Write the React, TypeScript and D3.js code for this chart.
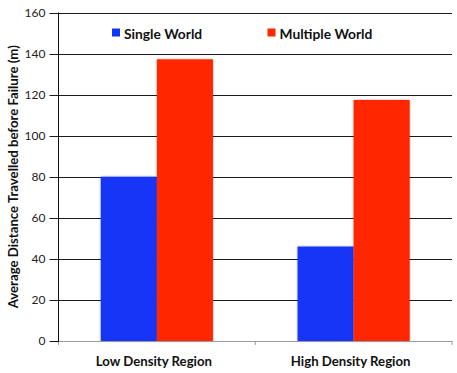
import * as d3 from "d3";

const categories = ["Low Density Region", "High Density Region"];
const seriesNames = ["Single World", "Multiple World"];
const singleWorld = [80, 46];
const multipleWorld = [137.2, 117.4];
const yTicks = [0, 20, 40, 60, 80, 100, 120, 140, 160];

const seriesColors = ["#1236f6", "#ff2800"];
const width = 457;
const height = 373;
const margin = { top: 12.5, right: 5, bottom: 32, left: 58.5 };
const font = "Lato, 'Open Sans', sans-serif";

export default function App() {
  const plotBottom = height - margin.bottom;
  const plotRight = width - margin.right;

  const x = d3
    .scaleBand()
    .domain(categories)
    .range([margin.left, plotRight])
    .paddingInner(0.43)
    .paddingOuter(0.215);
  const xSeries = d3
    .scaleBand()
    .domain(seriesNames)
    .range([0, x.bandwidth()]);
  const y = d3.scaleLinear().domain([0, 160]).range([plotBottom, margin.top]);

  const rows = categories.map((c, i) => ({
    category: c,
    values: [singleWorld[i], multipleWorld[i]],
  }));

  const legendItems = [
    { name: seriesNames[0], x: 112 },
    { name: seriesNames[1], x: 267.5 },
  ];

  return (
    <div style={{ position: "absolute", left: 0, top: 0 }}>
      <svg width={width} height={height} style={{ display: "block", background: "#fff" }}>
        <defs>
          <filter id="barShadow" x="-10%" y="-10%" width="120%" height="120%">
            <feDropShadow dx="0" dy="0" stdDeviation="0.9" floodColor="#000" floodOpacity="0.35" />
          </filter>
        </defs>

        {/* gridlines */}
        {yTicks.filter((t) => t > 0).map((t) => (
          <line
            key={t}
            x1={margin.left - 9}
            x2={plotRight}
            y1={Math.round(y(t)) + 0.5}
            y2={Math.round(y(t)) + 0.5}
            stroke="#1a1a1a"
            strokeWidth={1}
          />
        ))}

        {/* bars */}
        {rows.map((row) =>
          row.values.map((v, j) => (
            <rect
              key={row.category + j}
              x={(x(row.category) ?? 0) + (xSeries(seriesNames[j]) ?? 0)}
              y={y(v)}
              width={xSeries.bandwidth()}
              height={plotBottom - y(v)}
              fill={seriesColors[j]}
              filter="url(#barShadow)"
            />
          ))
        )}

        {/* x axis */}
        <line x1={margin.left} x2={plotRight} y1={plotBottom + 0.5} y2={plotBottom + 0.5} stroke="#9a9a9a" />
        {[margin.left, (margin.left + plotRight) / 2, plotRight].map((px) => (
          <line key={px} x1={px} x2={px} y1={plotBottom} y2={plotBottom + 4} stroke="#9a9a9a" />
        ))}
        {categories.map((c) => (
          <text
            key={c}
            x={(x(c) ?? 0) + x.bandwidth() / 2 - 3}
            y={plotBottom + 25}
            textAnchor="middle"
            fontFamily={font}
            fontWeight="bold"
            fontSize={13.2}
            fill="#111"
          >
            {c}
          </text>
        ))}

        {/* y axis */}
        <line x1={margin.left} x2={margin.left} y1={margin.top} y2={plotBottom + 1} stroke="#111" />
        <line x1={margin.left - 9} x2={margin.left} y1={plotBottom + 0.5} y2={plotBottom + 0.5} stroke="#111" />
        {yTicks.map((t) => (
          <text
            key={t}
            x={margin.left - 13}
            y={y(t)}
            dy="0.35em"
            textAnchor="end"
            fontFamily={font}
            fontSize={12}
            fill="#222"
          >
            {t}
          </text>
        ))}
        <text
          transform={`translate(18, ${(margin.top + plotBottom) / 2}) rotate(-90)`}
          textAnchor="middle"
          fontFamily={font}
          fontWeight="bold"
          fontSize={13.2}
          fill="#111"
        >
          Average Distance Travelled before Failure (m)
        </text>

        {/* legend */}
        {legendItems.map((item, i) => (
          <g key={item.name}>
            <rect x={item.x} y={28.5} width={8} height={8} fill={seriesColors[i]} />
            <text x={item.x + 12} y={38.5} fontFamily={font} fontWeight="bold" fontSize={13.8} fill="#111">
              {item.name}
            </text>
          </g>
        ))}
      </svg>
    </div>
  );
}
